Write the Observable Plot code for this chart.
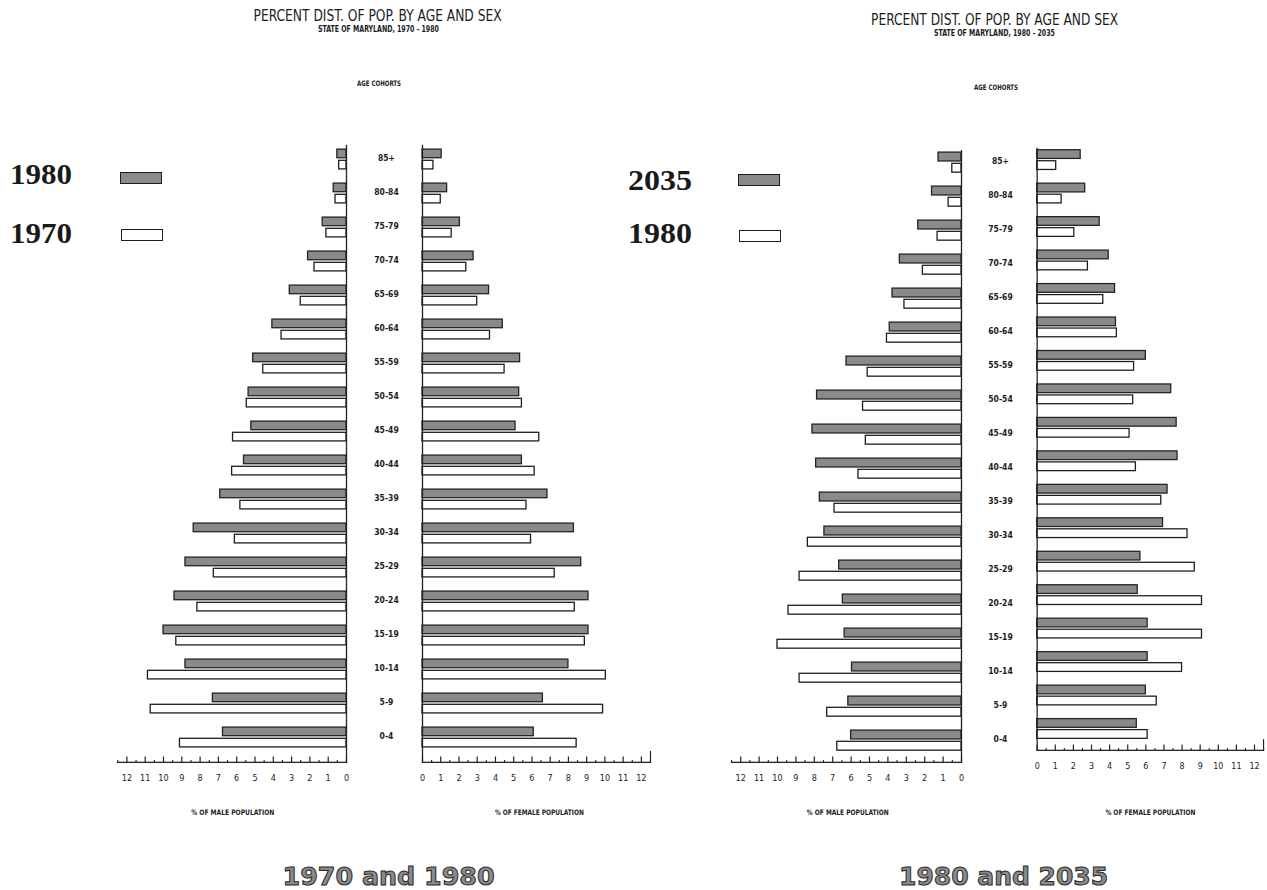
<!DOCTYPE html>
<html><head><meta charset="utf-8">
<script src="https://cdn.jsdelivr.net/npm/d3@7"></script>
<script src="https://cdn.jsdelivr.net/npm/@observablehq/plot@0.6"></script>
<style>
body{margin:0;background:#fff;}
#page{position:relative;width:1267px;height:890px;overflow:hidden;background:#fff;color:#1c1c1c;font-family:"DejaVu Sans Condensed","DejaVu Sans",sans-serif;}
.abs{position:absolute;white-space:nowrap;line-height:1;}
.plotbox{position:absolute;top:0;}
.plotbox svg{overflow:visible;background:transparent;}
.swatch{position:absolute;box-sizing:border-box;border:1.4px solid #1e1e1e;}
</style></head><body><div id="page"></div>
<script>
// ---- data (percent of population, ordered oldest cohort to youngest) ----
const ages = ["85+","80-84","75-79","70-74","65-69","60-64","55-59","50-54","45-49","40-44","35-39","30-34","25-29","20-24","15-19","10-14","5-9","0-4"];
const male1970   = [0.4,0.6,1.1,1.75,2.5,3.55,4.55,5.45,6.2,6.25,5.8,6.1,7.25,8.15,9.3,10.85,10.7,9.1];
const female1970 = [0.6,1.0,1.6,2.4,3.0,3.7,4.5,5.45,6.4,6.15,5.7,5.95,7.25,8.35,8.9,10.05,9.9,8.45];
const male1980   = [0.5,0.7,1.3,2.1,3.1,4.05,5.1,5.35,5.2,5.6,6.9,8.35,8.8,9.4,10.0,8.8,7.3,6.75];
const female1980 = [1.05,1.35,2.05,2.8,3.65,4.4,5.35,5.3,5.1,5.45,6.85,8.3,8.7,9.1,9.1,8.0,6.6,6.1];
const male2035   = [1.25,1.6,2.35,3.35,3.75,3.9,6.25,7.85,8.1,7.9,7.7,7.45,6.65,6.45,6.35,5.95,6.15,6.0];
const female2035 = [2.4,2.65,3.45,3.95,4.3,4.35,6.0,7.4,7.7,7.75,7.2,6.95,5.7,5.55,6.1,6.1,6.0,5.5];
const tickLabels = [0,1,2,3,4,5,6,7,8,9,10,11,12];
const minorTicks = [0.5,1.5,2.5,3.5,4.5,5.5,6.5,7.5,8.5,9.5,10.5,11.5,12.5];
const axisMax = 12.5;

const page = document.getElementById("page");
const rows = v => ages.map((age, i) => ({age, value: v[i]}));
const FONT = "DejaVu Sans Condensed, DejaVu Sans, sans-serif";

function side({left, zeroPx, endPx, T, B, pad, newer, older, male, labelDx}) {
  const height = 800;
  let width, marginLeft, marginRight;
  if (male) { marginLeft = endPx - left; width = zeroPx - left + 64; marginRight = width - (zeroPx - left); }
  else { marginLeft = zeroPx - left; width = endPx - left + 4; marginRight = 4; }
  const H = B - T;
  const step = H / (ages.length + 2 * pad);
  const marks = [
    Plot.barX(rows(newer), {y: "age", x: "value", fill: "#8a8a8a", stroke: "#232323", strokeWidth: 1.3,
      insetTop: 7.1, insetBottom: step - 16.1}),
    Plot.barX(rows(older), {y: "age", x: "value", fill: "#ffffff", stroke: "#1e1e1e", strokeWidth: 1.3,
      insetTop: 18.3, insetBottom: step - 27.3}),
    Plot.ruleX([0], {x: d => d, stroke: "#222", strokeWidth: 1.3, insetTop: pad * step + 6.6}),
    Plot.barX([[0, axisMax]], {x1: d => d[0], x2: d => d[1], fill: "#222", insetTop: H - 1.3}),
    Plot.ruleX(tickLabels, {x: d => d, stroke: "#222", strokeWidth: 1.2, insetTop: H - 6.5}),
    Plot.ruleX(minorTicks, {x: d => d, stroke: "#222", strokeWidth: 1.1, insetTop: H - 3}),
    Plot.axisX({ticks: tickLabels, tickSize: 0, tickPadding: 11, fontSize: 9, fill: "#1c1c1c", label: null, tickFormat: d => String(d)})
  ];
  if (!male) marks.push(Plot.ruleX([axisMax], {x: d => d, stroke: "#222", strokeWidth: 1.2, insetTop: H - 12}));
  if (male) marks.push(Plot.text(ages, {y: d => d, x: () => 0, dx: labelDx, dy: -1, text: d => d,
      textAnchor: "middle", fontSize: 8.5, fontWeight: "bold", fill: "#1c1c1c"}));
  const chart = Plot.plot({
    width, height, marginTop: T, marginBottom: height - B, marginLeft, marginRight,
    style: {fontFamily: FONT, background: "transparent", overflow: "visible"},
    x: {domain: [0, axisMax], reverse: male},
    y: {type: "band", domain: ages, paddingInner: 0, paddingOuter: pad, align: 0.5, axis: null},
    marks
  });
  const box = document.createElement("div");
  box.className = "plotbox"; box.style.left = left + "px";
  box.appendChild(chart);
  page.appendChild(box);
}

// left pyramid: 1980 (shaded) vs 1970 (open)
side({left: 100, zeroPx: 346, endPx: 117.25, T: 132.3, B: 763, pad: 0.17, newer: male1980, older: male1970, male: true, labelDx: 40});
side({left: 400, zeroPx: 422, endPx: 650, T: 132.3, B: 763, pad: 0.17, newer: female1980, older: female1970, male: false});
// right pyramid: 2035 (shaded) vs 1980 (open)
side({left: 711, zeroPx: 961, endPx: 731, T: 138.3, B: 763, pad: 0.15, newer: male2035, older: male1980, male: true, labelDx: 39});
side({left: 1017, zeroPx: 1037, endPx: 1267, T: 138.3, B: 763, pad: 0.15, newer: female2035, older: female1980, male: false});

function addText(txt, cx, cy, w, style) {
  const d = document.createElement("div");
  d.className = "abs"; d.textContent = txt;
  Object.assign(d.style, style);
  page.appendChild(d);
  const r = d.getBoundingClientRect();
  d.style.left = (cx - r.width / 2) + "px";
  d.style.top = (cy - r.height / 2) + "px";
  d.style.transformOrigin = "center center";
  d.style.transform = `scaleX(${w / r.width})`;
}
const plain = {fontFamily: FONT, color: "#1c1c1c"};
addText("PERCENT DIST. OF POP. BY AGE AND SEX", 378, 16, 248, {...plain, fontSize: "15px"});
addText("STATE OF MARYLAND, 1970 - 1980", 378, 29.5, 121, {...plain, fontSize: "8px", fontWeight: "bold"});
addText("AGE COHORTS", 379, 84, 44, {...plain, fontSize: "7.5px", fontWeight: "bold"});
addText("PERCENT DIST. OF POP. BY AGE AND SEX", 995, 20, 247, {...plain, fontSize: "15px"});
addText("STATE OF MARYLAND, 1980 - 2035", 994, 33.5, 121, {...plain, fontSize: "8px", fontWeight: "bold"});
addText("AGE COHORTS", 996, 88, 44, {...plain, fontSize: "7.5px", fontWeight: "bold"});

addText("% OF MALE POPULATION", 233, 813, 83, {...plain, fontSize: "7.5px", fontWeight: "bold"});
addText("% OF FEMALE POPULATION", 539, 813, 89, {...plain, fontSize: "7.5px", fontWeight: "bold"});
addText("% OF MALE POPULATION", 848, 813, 82, {...plain, fontSize: "7.5px", fontWeight: "bold"});
addText("% OF FEMALE POPULATION", 1150, 813, 90, {...plain, fontSize: "7.5px", fontWeight: "bold"});

const serif = {fontFamily: "'Liberation Serif','DejaVu Serif',serif", fontWeight: "bold", fontSize: "30px", color: "#1a1a1a"};
addText("1980", 41, 174, 62, serif);
addText("1970", 41, 232.5, 62, serif);
addText("2035", 660, 180, 64, serif);
addText("1980", 660, 232.5, 64, serif);

const heavy = {fontFamily: "'DejaVu Sans',sans-serif", fontWeight: "bold", fontSize: "25px", color: "#8a8a8a", webkitTextStroke: "1px #2a2a2a"};
addText("1970 and 1980", 389, 876, 212, heavy);
addText("1980 and 2035", 1004, 876, 209, heavy);

function swatch(x, y, w, h, fill) {
  const s = document.createElement("div");
  s.className = "swatch";
  Object.assign(s.style, {left: x + "px", top: y + "px", width: w + "px", height: h + "px", background: fill});
  page.appendChild(s);
}
swatch(120, 172, 42, 11.5, "#8a8a8a");
swatch(120.5, 229, 42.5, 12, "#ffffff");
swatch(738, 174, 42, 12, "#8a8a8a");
swatch(738.5, 229.5, 42.5, 12.5, "#ffffff");
</script></body></html>
